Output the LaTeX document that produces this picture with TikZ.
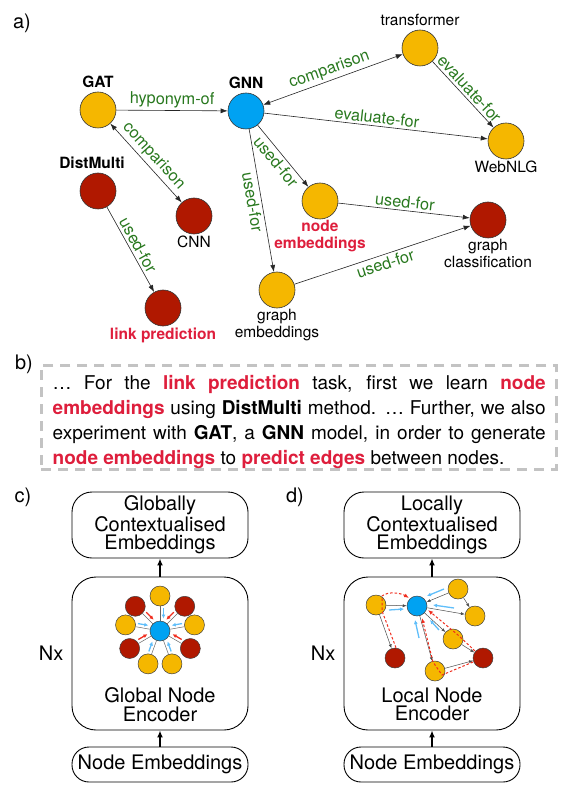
\documentclass[tikz,border=0pt]{standalone}
\usepackage{fontspec}
\setmainfont{TeX Gyre Heros}
\usetikzlibrary{arrows.meta,calc,positioning}

\definecolor{nodeyel}{RGB}{245,183,0}
\definecolor{nodeblu}{RGB}{0,162,242}
\definecolor{noderd}{RGB}{176,24,0}
\definecolor{relgreen}{RGB}{40,120,30}
\definecolor{termred}{RGB}{222,30,60}
\definecolor{msgblue}{RGB}{95,190,250}
\definecolor{msgred}{RGB}{240,45,30}
\definecolor{boxgray}{RGB}{195,195,195}

\newcommand\figafont{\fontsize{15.5}{17}\selectfont}
\newcommand\figrfont{\fontsize{16.3}{18}\selectfont}
\newcommand\figbfont{\fontsize{19}{25}\selectfont}
\newcommand\figcfont{\fontsize{20}{18.5}\selectfont}
\newcommand\figpfont{\fontsize{20}{22}\selectfont}
\newcommand\hlterm[1]{\textcolor{termred}{\textbf{#1}}}

\begin{document}
\begin{tikzpicture}[x=1pt, y=-1pt, >={Latex[length=7pt,width=5pt]}, auto,
    ent/.style={circle, draw=black!80, line width=0.6pt, minimum size=36pt, inner sep=0pt, label distance=3pt},
    lab/.style={font=\figafont, inner sep=1pt, align=center},
    toplab/.style={lab, yshift=3pt},
    termlab/.style={lab, text=termred, font=\figafont\bfseries},
    rel/.style={font=\figrfont, text=relgreen, sloped, inner sep=2.5pt},
    partlab/.style={font=\figpfont, inner sep=0pt},
    qframe/.style={draw=boxgray, line width=2.6pt, dash pattern=on 10pt off 7pt},
    qtext/.style={font=\figbfont, text width=493pt, inner sep=0pt, align=justify},
    modbox/.style={draw, line width=0.9pt, minimum width=176pt, inner sep=2pt, align=center, font=\figcfont},
    flow/.style={line width=1.8pt, -{Latex[length=7pt,width=6pt]}},
    mininode/.style={circle, draw=black!75, line width=0.5pt, minimum size=20pt, inner sep=0pt},
    spoke/.style={draw=black!60, line width=0.5pt},
    msgyel/.style={draw=msgblue, line width=1.3pt, -{Latex[length=4pt,width=4pt]}},
    msgrd/.style={draw=msgred, line width=1.3pt, -{Latex[length=4pt,width=4pt]}},
    hop/.style={draw=black!70, line width=0.5pt, -{Latex[length=4pt,width=3pt]}},
    walk/.style={draw=msgred, line width=1pt, dash pattern=on 2.5pt off 2pt, -{Latex[length=5pt,width=4pt]}}
]
\useasboundingbox (0,0) rectangle (569,791);

% a) knowledge graph
\node[partlab] (pa) at (22,23) {a)};

\node[ent, fill=nodeyel, label={[toplab]above:\textbf{GAT}}]          (gat)   at (98,110)  {};
\node[ent, fill=nodeblu, label={[toplab]above:\textbf{GNN}}]          (gnn)   at (246,111) {};
\node[ent, fill=nodeyel, label={[toplab]above:transformer}]           (trf)   at (420,48)  {};
\node[ent, fill=nodeyel, label={[lab]below:WebNLG}]                   (web)   at (506,141) {};
\node[ent, fill=noderd,  label={[toplab, xshift=-6pt]above:\textbf{DistMulti}}] (dist) at (98,191) {};
\node[ent, fill=noderd,  label={[lab]below:CNN}]                      (cnn)   at (194,216) {};
\node[ent, fill=nodeyel, label={[termlab]below:node\\embeddings}]     (nemb)  at (320,201) {};
\node[ent, fill=noderd,  label={[lab]below:graph\\classification}]    (gcls)  at (488,220) {};
\node[ent, fill=nodeyel, label={[lab]below:graph\\embeddings}]        (gemb)  at (277,290) {};
\node[ent, fill=noderd,  label={[termlab]below:link prediction}]      (lpred) at (163,308) {};

\path[->, every edge/.append style={draw=black!85, line width=0.6pt}, every node/.style={rel}]
    (gat)  edge              node        {hyponym-of}   (gnn)
    (gnn)  edge [<->]        node        {comparison}   (trf)
           edge              node        {evaluate-for} (web)
           edge              node [swap] {used-for}     (nemb)
           edge              node [swap] {used-for}     (gemb)
    (trf)  edge              node        {evaluate-for} (web)
    (gat)  edge [<->]        node        {comparison}   (cnn)
    (dist) edge              node        {used-for}     (lpred)
    (nemb) edge              node        {used-for}     (gcls)
    (gemb) edge              node [swap] {used-for}     (gcls);

% b) text snippet
\node[partlab] (pb) at (24,364) {b)};
\node[qframe, minimum width=515pt, minimum height=104pt, anchor=north west] (qbox) at (40,364) {};
\node[qtext, anchor=north west] (qtxt) at ($(qbox.north west)+(12.5,11)$)
  {… For the \hlterm{link prediction} task, first we learn \hlterm{node}\linebreak
   \hlterm{embeddings} using \textbf{DistMulti} method. … Further, we also\linebreak
   experiment with \textbf{GAT}, a \textbf{GNN} model, in order to generate\linebreak
   \hlterm{node embeddings} to \hlterm{predict edges} between nodes.};

% c) global encoder
\node[partlab] (pc) at (23,497) {c)};
\node[modbox, rounded corners=20pt, minimum height=66pt]  (gout) at (160,525)   {Globally\\Contextualised\\Embeddings};
\node[modbox, rounded corners=24pt, minimum height=153pt] (genc) at (160,653.5) {};
\node[modbox, rounded corners=17pt, minimum height=35pt]  (gin)  at (160,764.5) {Node Embeddings};
\node[font=\figcfont, align=center] (gname) at ($(genc.south)+(0,-26)$) {Global Node\\Encoder};
\node[font=\figcfont, inner sep=0pt, left=8pt of genc] (gnx) {Nx};
\draw[flow] (genc) -- (gout);
\draw[flow] (gin) -- (genc);

\node[mininode, fill=nodeblu] (gctr) at (160,631) {};
\foreach \ang/\col/\s [count=\i] in {-90/yel/1, -135/rd/1, -170/yel/1, 150/rd/1, 110/yel/1,
                                      -45/rd/-1, -10/yel/-1, 30/rd/-1, 70/yel/-1}{
  \node[mininode, fill=node\col] (g\i) at ($(gctr)+(\ang:35)$) {};
  \draw[spoke] (g\i) -- (gctr);
  \draw[msg\col] ($(gctr)+(\ang:23)+(\ang+\s*90:3.5)$) -- ($(gctr)+(\ang:12.5)+(\ang+\s*90:3.5)$);
}

% d) local encoder
\node[partlab] (pd) at (295,497) {d)};
\node[modbox, rounded corners=20pt, minimum height=66pt]  (lout) at (432,525)   {Locally\\Contextualised\\Embeddings};
\node[modbox, rounded corners=24pt, minimum height=153pt] (lenc) at (432,653.5) {};
\node[modbox, rounded corners=17pt, minimum height=35pt]  (lin)  at (432,764.5) {Node Embeddings};
\node[font=\figcfont, align=center] (lname) at ($(lenc.south)+(0,-26)$) {Local Node\\Encoder};
\node[font=\figcfont, inner sep=0pt, left=8pt of lenc] (lnx) {Nx};
\draw[flow] (lenc) -- (lout);
\draw[flow] (lin) -- (lenc);

\node[mininode, fill=nodeblu] (lctr) at (417,606) {};
\node[mininode, fill=nodeyel] (la)   at (376,605) {};
\node[mininode, fill=nodeyel] (lb)   at (458,589) {};
\node[mininode, fill=nodeyel] (lc)   at (475,616) {};
\node[mininode, fill=nodeyel] (ld)   at (453,639) {};
\node[mininode, fill=noderd]  (le)   at (395,658) {};
\node[mininode, fill=noderd]  (lf)   at (483,658) {};
\node[mininode, fill=nodeyel] (lg)   at (435,671) {};

\draw[hop] (la) -- (lctr);
\draw[hop] (lb) -- (lctr);
\draw[hop] (lb) -- (lc);
\draw[hop] (lctr) -- (lc);
\draw[hop] (lctr) -- (ld);
\draw[hop] (ld) -- (lf);
\draw[hop] (lg) -- (lf);
\draw[hop] (lctr) -- (lg);
\draw[hop] (la) -- (le);

\draw[walk] ($(le.north)+(1,0)$) -- ($(la)+(6,6)$) -- ($(la)+(6,-9)$)
    .. controls ($(la)+(12,-14)$) and ($(lctr)+(-16,-13)$) .. ($(lctr)+(-8,-8)$);
\draw[walk] ($(lf)+(-8,-7)$) -- ($(ld)+(5,-4)$) -- ($(lctr)+(11,4)$);
\draw[walk] ($(lf)+(-10,4)$) -- ($(lg)+(7,4)$) -- ($(lg)+(-2,-9)$) -- ($(lctr)+(5,12)$);

\draw[msgyel] ($(lctr)+(-28,4)$) -- ($(lctr)+(-13,3)$);
\draw[msgyel] ($(lctr)+(27,-17)$) -- ($(lctr)+(10,-10)$);
\draw[msgyel] ($(lctr)+(37,2)$) -- ($(lctr)+(16,-1)$);
\draw[msgyel] ($(lctr)+(22,24)$) -- ($(lctr)+(13,14)$);
\draw[msgyel] ($(lctr)+(2,32)$) -- ($(lctr)+(-2,14)$);
\end{tikzpicture}
\end{document}
